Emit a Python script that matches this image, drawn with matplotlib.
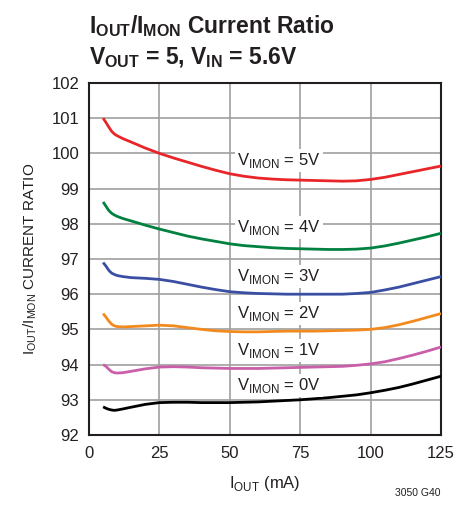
import matplotlib
matplotlib.use("Agg")
import matplotlib.pyplot as plt
from matplotlib import font_manager as fm

names = {f.name for f in fm.fontManager.ttflist}
FAM = ['Liberation Sans Narrow', 'DejaVu Sans'] if 'Liberation Sans Narrow' in names else ['Liberation Sans', 'DejaVu Sans']
plt.rcParams['font.family'] = FAM
plt.rcParams['mathtext.fontset'] = 'custom'
plt.rcParams['mathtext.rm'] = FAM[0]
plt.rcParams['mathtext.bf'] = FAM[0] + ':bold'

# data
x_5v = [5, 6, 7, 8, 9, 10, 12, 15, 20, 25, 30, 35, 40, 45, 50, 55, 60, 65, 70, 75, 80, 85, 90, 95, 100, 105, 110, 115, 120, 125]
y_5v = [101.0, 100.88, 100.75, 100.63, 100.55, 100.5, 100.42, 100.32, 100.15, 100.0, 99.87, 99.75, 99.63, 99.52, 99.42, 99.35, 99.3, 99.27, 99.25, 99.24, 99.23, 99.22, 99.21, 99.22, 99.26, 99.32, 99.4, 99.48, 99.56, 99.64]
x_4v = [5, 6, 7, 8, 9, 10, 12, 15, 20, 25, 30, 35, 40, 45, 50, 55, 60, 65, 70, 75, 80, 85, 90, 95, 100, 105, 110, 115, 120, 125]
y_4v = [98.62, 98.5, 98.38, 98.3, 98.25, 98.21, 98.15, 98.08, 97.96, 97.85, 97.75, 97.65, 97.57, 97.5, 97.43, 97.38, 97.35, 97.32, 97.3, 97.29, 97.28, 97.27, 97.27, 97.28, 97.31, 97.37, 97.45, 97.54, 97.63, 97.73]
x_3v = [5, 6, 7, 8, 9, 10, 12, 15, 20, 25, 30, 35, 40, 45, 50, 55, 60, 65, 70, 75, 80, 85, 90, 95, 100, 105, 110, 115, 120, 125]
y_3v = [96.9, 96.8, 96.68, 96.6, 96.56, 96.53, 96.5, 96.47, 96.45, 96.42, 96.36, 96.28, 96.2, 96.13, 96.07, 96.04, 96.02, 96.01, 96.0, 96.0, 96.0, 96.0, 96.0, 96.02, 96.05, 96.12, 96.2, 96.3, 96.4, 96.5]
x_2v = [5, 6, 7, 8, 9, 10, 12, 15, 20, 25, 30, 35, 40, 45, 50, 55, 60, 65, 70, 75, 80, 85, 90, 95, 100, 105, 110, 115, 120, 125]
y_2v = [95.45, 95.35, 95.24, 95.15, 95.1, 95.08, 95.07, 95.08, 95.1, 95.12, 95.1, 95.05, 95.0, 94.96, 94.94, 94.93, 94.93, 94.94, 94.95, 94.95, 94.95, 94.96, 94.97, 94.98, 95.0, 95.05, 95.13, 95.23, 95.34, 95.45]
x_1v = [5, 6, 7, 8, 9, 10, 12, 15, 20, 25, 30, 35, 40, 45, 50, 55, 60, 65, 70, 75, 80, 85, 90, 95, 100, 105, 110, 115, 120, 125]
y_1v = [94.0, 93.95, 93.87, 93.8, 93.77, 93.76, 93.77, 93.81, 93.88, 93.93, 93.94, 93.93, 93.91, 93.9, 93.89, 93.89, 93.89, 93.9, 93.91, 93.92, 93.93, 93.94, 93.95, 93.98, 94.02, 94.08, 94.17, 94.27, 94.38, 94.5]
x_0v = [5, 6, 7, 8, 9, 10, 12, 15, 20, 25, 30, 35, 40, 45, 50, 55, 60, 65, 70, 75, 80, 85, 90, 95, 100, 105, 110, 115, 120, 125]
y_0v = [92.8, 92.76, 92.73, 92.71, 92.7, 92.71, 92.74, 92.79, 92.87, 92.92, 92.93, 92.93, 92.92, 92.92, 92.92, 92.93, 92.94, 92.96, 92.98, 93.0, 93.03, 93.06, 93.1, 93.14, 93.2, 93.27, 93.35, 93.45, 93.56, 93.67]

series = [
    (x_5v, y_5v, '#e8262a', '5V', 99.81),
    (x_4v, y_4v, '#00813f', '4V', 97.9),
    (x_3v, y_3v, '#3a4fa3', '3V', 96.5),
    (x_2v, y_2v, '#f28a20', '2V', 95.46),
    (x_1v, y_1v, '#c95fa9', '1V', 94.4),
    (x_0v, y_0v, '#000000', '0V', 93.42),
]
x_ticks = [0, 25, 50, 75, 100, 125]
y_ticks = list(range(92, 103))

fig = plt.figure(figsize=(4.72, 5.08), dpi=100)
ax = fig.add_axes([0.1886, 0.1437, 0.7458, 0.693])
ax.set_xlim(0, 125)
ax.set_ylim(92, 102)
ax.set_xticks(x_ticks)
ax.set_yticks(y_ticks)
ax.grid(True, color='#a0a0a0', linewidth=1.2)
ax.set_axisbelow(True)
for s in ax.spines.values():
    s.set_color('#231f20')
    s.set_linewidth(1.5)
ax.tick_params(axis='both', length=0, labelsize=12, colors='#231f20')
ax.tick_params(axis='x', pad=8)
ax.tick_params(axis='y', pad=7)

for xs, ys, c, lab, ly in series:
    ax.plot(xs, ys, color=c, linewidth=2.0, solid_capstyle='butt', solid_joinstyle='round', zorder=3)
    ax.text(67.5, ly, r'V$_{\mathregular{IMON}}$ = ' + lab, ha='center', va='center',
            fontsize=12, color='#231f20', zorder=4,
            bbox=dict(facecolor='white', edgecolor='none', pad=1.5))

ax.set_xlabel(r'I$_{\mathregular{OUT}}$ (mA)', fontsize=12, color='#231f20', labelpad=9)
ax.set_ylabel(r'I$_{\mathregular{OUT}}$/I$_{\mathregular{MON}}$ CURRENT RATIO', fontsize=11, color='#231f20', labelpad=9)

fig.text(0.188, 0.935, r'I$_{\mathregular{OUT}}$/I$_{\mathregular{MON}}$ Current Ratio', fontsize=16.5, fontweight='bold',
         color='#231f20', ha='left', va='baseline')
fig.text(0.188, 0.874, r'V$_{\mathregular{OUT}}$ = 5, V$_{\mathregular{IN}}$ = 5.6V', fontsize=16.5, fontweight='bold',
         color='#231f20', ha='left', va='baseline')
fig.text(0.934, 0.02, '3050 G40', fontsize=7.5, color='#231f20', ha='right', va='bottom')

fig.savefig('out.png', dpi=100)
